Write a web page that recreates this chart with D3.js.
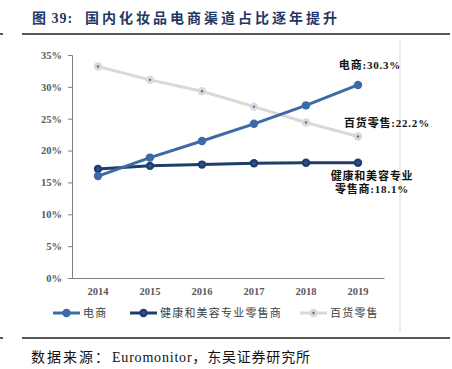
<!DOCTYPE html>
<html><head><meta charset="utf-8">
<script src="https://cdn.jsdelivr.net/npm/d3@7/dist/d3.min.js"></script>
<style>
body{margin:0;background:#fff;}
svg text{font-family:"Liberation Serif","Noto Sans CJK SC",serif;}
</style></head><body>
<svg id="c" width="452" height="369"></svg>
<script>
const years = ["2014","2015","2016","2017","2018","2019"];
const ecommerce = [16.0, 18.9, 21.5, 24.2, 27.1, 30.3];
const specialty = [17.1, 17.6, 17.8, 18.0, 18.1, 18.1];
const department = [33.2, 31.1, 29.3, 26.9, 24.4, 22.2];
const yTicks = [0,5,10,15,20,25,30,35];
const seriesNames = ["电商","健康和美容专业零售商","百货零售"];
const titleHead = "图 39:";
const titleBody = "国内化妆品电商渠道占比逐年提升";
const sourceHead = "数据来源：";
const sourceBody = "Euromonitor，东吴证券研究所";

const svg = d3.select("#c");
const x = d3.scaleBand().domain(years).range([72,384]);
const y = d3.scaleLinear().domain([0,35]).range([278,55]);

// title and rules
svg.append("text").attr("x",32).attr("y",23).attr("fill","#1f3864")
  .attr("font-size",14).attr("font-weight","bold").attr("letter-spacing",1).text(titleHead);
svg.append("text").attr("x",85).attr("y",23).attr("fill","#1f3864")
  .attr("font-size",14).attr("font-weight","bold").attr("letter-spacing",3).text(titleBody);
svg.append("line").attr("x1",0).attr("x2",3).attr("y1",34).attr("y2",34).attr("stroke","#222").attr("stroke-width",1.5);
svg.append("line").attr("x1",22).attr("x2",450).attr("y1",34).attr("y2",34).attr("stroke","#222").attr("stroke-width",1.5);
svg.append("line").attr("x1",0).attr("x2",3).attr("y1",338).attr("y2",338).attr("stroke","#222").attr("stroke-width",1.5);
svg.append("line").attr("x1",22).attr("x2",450).attr("y1",338).attr("y2",338).attr("stroke","#222").attr("stroke-width",1.5);
svg.append("line").attr("x1",400).attr("x2",400).attr("y1",40).attr("y2",332).attr("stroke","#d9d9d9").attr("stroke-width",1);
svg.append("text").attr("x",31).attr("y",362).attr("fill","#111").attr("font-size",14)
  .attr("letter-spacing",2).text(sourceHead);
svg.append("text").attr("x",112).attr("y",362).attr("fill","#111").attr("font-size",14)
  .attr("letter-spacing",0.8).text(sourceBody);

// axes
const yAxis = svg.append("g").attr("transform","translate(72,0)")
  .call(d3.axisLeft(y).tickValues(yTicks).tickSize(4).tickFormat(d=>d+"%"));
const xAxis = svg.append("g").attr("transform","translate(0,278)")
  .call(d3.axisBottom(x).tickSize(0).tickPadding(10));
[yAxis,xAxis].forEach(g=>{
  g.select(".domain").attr("stroke","#808080");
  g.selectAll(".tick line").attr("stroke","#808080");
  g.selectAll("text").attr("fill","#595959").attr("font-size",10.5).attr("font-weight","bold")
   .attr("font-family","Liberation Serif");
});
yAxis.selectAll("text").attr("x",-10);

const cx = d => x(d)+x.bandwidth()/2;
const series = [
  {name:seriesNames[2], vals:department, color:"#d9d9d9", fill:"#d9d9d9", inner:"#4472c4", innerR:1.2, w:3},
  {name:seriesNames[1], vals:specialty, color:"#1f3d6b", fill:"#1f3d6b", inner:"#2f5597", innerR:1.8, w:3},
  {name:seriesNames[0], vals:ecommerce, color:"#3c6aa6", fill:"#3c6aa6", inner:null, w:3}
];
const line = d3.line().x(d=>cx(d.k)).y(d=>y(d.v));
series.forEach(s=>{
  const pts = years.map((k,i)=>({k,v:s.vals[i]}));
  svg.append("path").datum(pts).attr("d",line).attr("fill","none")
    .attr("stroke",s.color).attr("stroke-width",s.w);
  svg.selectAll(null).data(pts).enter().append("circle")
    .attr("cx",d=>cx(d.k)).attr("cy",d=>y(d.v)).attr("r",4.2).attr("fill",s.fill);
  if(s.inner) svg.selectAll(null).data(pts).enter().append("circle")
    .attr("cx",d=>cx(d.k)).attr("cy",d=>y(d.v)).attr("r",s.innerR).attr("fill",s.inner);
});

// annotations
const ann = (t,xx,yy)=>svg.append("text").attr("x",xx).attr("y",yy).attr("text-anchor","middle")
  .attr("font-size",11).attr("font-weight","bold").attr("letter-spacing",0.8).attr("fill","#111").text(t);
const last = years.length-1;
ann(seriesNames[0]+":"+ecommerce[last].toFixed(1)+"%", 370, y(ecommerce[last])-16);
ann("百货零售:"+department[last].toFixed(1)+"%", 387, y(department[last])-10);
ann("健康和美容专业", 372, y(specialty[last])+17);
ann("零售商:"+specialty[last].toFixed(1)+"%", 372, y(specialty[last])+30);

// legend
const legItems = [
  {s:series.find(d=>d.name===seriesNames[0]), x:53},
  {s:series.find(d=>d.name===seriesNames[1]), x:130},
  {s:series.find(d=>d.name===seriesNames[2]), x:300}
];
legItems.forEach(it=>{
  const g = svg.append("g");
  g.append("line").attr("x1",it.x).attr("x2",it.x+27).attr("y1",313).attr("y2",313)
    .attr("stroke",it.s.color).attr("stroke-width",3);
  g.append("circle").attr("cx",it.x+13.5).attr("cy",313).attr("r",4.2).attr("fill",it.s.fill);
  if(it.s.inner) g.append("circle").attr("cx",it.x+13.5).attr("cy",313).attr("r",it.s.innerR).attr("fill",it.s.inner);
  g.append("text").attr("x",it.x+30).attr("y",317).attr("font-size",11).attr("letter-spacing",1.2)
    .attr("fill","#404040").text(it.s.name);
});
</script></body></html>
